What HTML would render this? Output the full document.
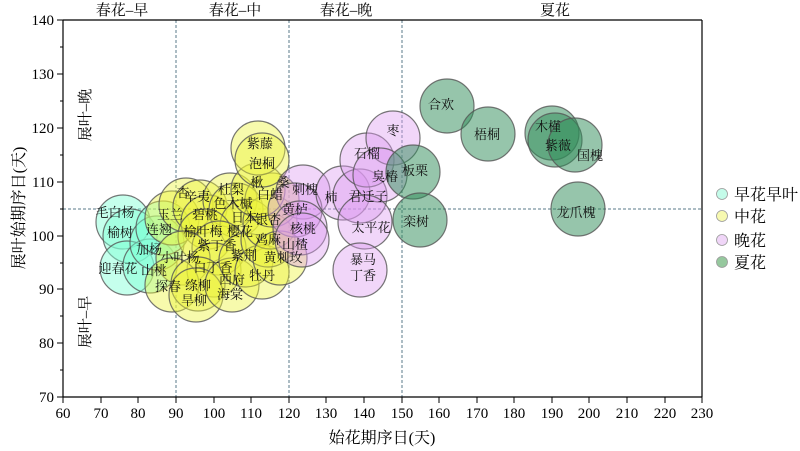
<!DOCTYPE html>
<html><head><meta charset="utf-8"><style>
html,body{margin:0;padding:0;background:#fff;}
svg{display:block;font-family:"Liberation Serif","Noto Serif CJK SC","Noto Sans CJK SC",serif;}
</style></head><body>
<svg width="800" height="451" viewBox="0 0 800 451" xmlns="http://www.w3.org/2000/svg">
<g stroke="#5a7a8a" stroke-width="1" stroke-dasharray="3,2">
<line x1="176" y1="20" x2="176" y2="397"/>
<line x1="289" y1="20" x2="289" y2="397"/>
<line x1="402" y1="20" x2="402" y2="397"/>
<line x1="63" y1="209" x2="702" y2="209"/>
</g>
<g stroke="#555" stroke-width="1.2" stroke-opacity="0.8">
<g fill="#7fffd4" fill-opacity="0.45">
<circle cx="123" cy="222" r="27"/><circle cx="130" cy="236" r="27"/>
<circle cx="127" cy="268" r="27"/><circle cx="150" cy="266" r="27"/>
<circle cx="157" cy="243" r="27"/><circle cx="163" cy="228" r="27"/>
</g>
<g fill="#ecf23a" fill-opacity="0.42">
<circle cx="172" cy="218" r="27"/><circle cx="186" cy="205" r="27"/><circle cx="200" cy="207" r="27"/>
<circle cx="208" cy="222" r="27"/><circle cx="230" cy="200" r="27"/><circle cx="236" cy="210" r="27"/>
<circle cx="247" cy="226" r="27"/><circle cx="205" cy="236" r="27"/><circle cx="219" cy="248" r="27"/>
<circle cx="183" cy="258" r="27"/><circle cx="214" cy="270" r="27"/><circle cx="172" cy="285" r="27"/>
<circle cx="198" cy="284" r="27"/><circle cx="196" cy="295" r="27"/><circle cx="232" cy="285" r="27"/>
<circle cx="246" cy="260" r="27"/><circle cx="262" cy="272" r="27"/><circle cx="268" cy="240" r="27"/>
<circle cx="270" cy="222" r="27"/><circle cx="272" cy="200" r="27"/><circle cx="258" cy="190" r="27"/>
<circle cx="258" cy="148" r="27"/><circle cx="262" cy="160" r="27"/><circle cx="280" cy="258" r="27"/>
</g>
<g fill="#dd99f0" fill-opacity="0.4">
<circle cx="303" cy="192" r="27"/><circle cx="295" cy="210" r="27"/><circle cx="300" cy="228" r="27"/>
<circle cx="302" cy="240" r="27"/><circle cx="343" cy="193" r="27"/><circle cx="360" cy="196" r="27"/>
<circle cx="367" cy="160" r="27"/><circle cx="393" cy="138" r="27"/><circle cx="380" cy="175" r="27"/>
<circle cx="365" cy="222" r="27"/><circle cx="360" cy="270" r="27"/>
</g>
<g fill="#2e8b57" fill-opacity="0.5">
<circle cx="413" cy="172" r="27"/><circle cx="420" cy="220" r="27"/><circle cx="447" cy="106" r="27"/>
<circle cx="488" cy="134" r="27"/><circle cx="552" cy="133" r="27"/><circle cx="555" cy="140" r="27"/>
<circle cx="575" cy="145" r="27"/><circle cx="578" cy="209" r="27"/>
</g>
</g>
<g font-size="13" fill="#111" text-anchor="middle">
<text x="115" y="217">毛白杨</text><text x="120" y="237">榆树</text><text x="118" y="273">迎春花</text>
<text x="149" y="254">加杨</text><text x="154" y="275">山桃</text><text x="159" y="234">连翘</text>
<text x="170" y="219">玉兰</text><text x="183" y="197">杏</text><text x="197" y="201">辛夷</text>
<text x="205" y="219">碧桃</text><text x="231" y="194">杜梨</text><text x="233" y="208">色木槭</text>
<text x="244" y="222">日本</text><text x="240" y="236">樱花</text><text x="203" y="236">榆叶梅</text>
<text x="217" y="250">紫丁香</text><text x="180" y="262">小叶杨</text><text x="213" y="272">白丁香</text>
<text x="168" y="291">探春</text><text x="198" y="290">绦柳</text><text x="194" y="305">旱柳</text>
<text x="232" y="284">西府</text><text x="230" y="299">海棠</text><text x="244" y="260">紫荆</text>
<text x="262" y="280">牡丹</text><text x="283" y="262">黄刺玫</text><text x="268" y="244">鸡麻</text>
<text x="268" y="224">银杏</text><text x="270" y="199">白蜡</text><text x="257" y="187">楸</text>
<text x="283" y="187">桑</text><text x="260" y="148">紫藤</text><text x="262" y="168">泡桐</text>
<text x="305" y="194">刺槐</text><text x="295" y="214">黄栌</text><text x="303" y="233">核桃</text>
<text x="295" y="249">山楂</text><text x="331" y="202">柿</text><text x="368" y="201">君迁子</text>
<text x="367" y="158">石榴</text><text x="393" y="135">枣</text><text x="385" y="181">臭椿</text>
<text x="371" y="232">太平花</text><text x="363" y="264">暴马</text><text x="363" y="280">丁香</text>
<text x="415" y="175">板栗</text><text x="416" y="226">栾树</text><text x="441" y="109">合欢</text>
<text x="487" y="139">梧桐</text><text x="548" y="131">木槿</text><text x="558" y="150">紫薇</text>
<text x="590" y="160">国槐</text><text x="576" y="217">龙爪槐</text>
</g>
<g stroke="#000" stroke-width="1.2" fill="none">
<line x1="63" y1="20" x2="702" y2="20"/>
<line x1="702" y1="20" x2="702" y2="397"/>
<line x1="63" y1="20" x2="63" y2="397"/>
<line x1="63" y1="397" x2="702" y2="397"/>
</g>
<g stroke="#000" stroke-width="1">
<line x1="57" y1="20" x2="63" y2="20"/><line x1="57" y1="74" x2="63" y2="74"/><line x1="57" y1="128" x2="63" y2="128"/>
<line x1="57" y1="182" x2="63" y2="182"/><line x1="57" y1="236" x2="63" y2="236"/><line x1="57" y1="289" x2="63" y2="289"/>
<line x1="57" y1="343" x2="63" y2="343"/><line x1="57" y1="397" x2="63" y2="397"/>
<line x1="60" y1="47" x2="63" y2="47"/><line x1="60" y1="101" x2="63" y2="101"/><line x1="60" y1="155" x2="63" y2="155"/>
<line x1="60" y1="209" x2="63" y2="209"/><line x1="60" y1="263" x2="63" y2="263"/><line x1="60" y1="316" x2="63" y2="316"/>
<line x1="60" y1="370" x2="63" y2="370"/>
</g>
<g font-size="15" fill="#000" text-anchor="end">
<text x="54" y="25">140</text><text x="54" y="79">130</text><text x="54" y="133">120</text><text x="54" y="187">110</text>
<text x="54" y="241">100</text><text x="54" y="294">90</text><text x="54" y="348">80</text><text x="54" y="402">70</text>
</g>
<g stroke="#000" stroke-width="1">
<line x1="63" y1="397" x2="63" y2="403"/><line x1="101" y1="397" x2="101" y2="403"/><line x1="138" y1="397" x2="138" y2="403"/>
<line x1="176" y1="397" x2="176" y2="403"/><line x1="214" y1="397" x2="214" y2="403"/><line x1="251" y1="397" x2="251" y2="403"/>
<line x1="289" y1="397" x2="289" y2="403"/><line x1="326" y1="397" x2="326" y2="403"/><line x1="364" y1="397" x2="364" y2="403"/>
<line x1="402" y1="397" x2="402" y2="403"/><line x1="439" y1="397" x2="439" y2="403"/><line x1="477" y1="397" x2="477" y2="403"/>
<line x1="514" y1="397" x2="514" y2="403"/><line x1="552" y1="397" x2="552" y2="403"/><line x1="589" y1="397" x2="589" y2="403"/>
<line x1="627" y1="397" x2="627" y2="403"/><line x1="665" y1="397" x2="665" y2="403"/><line x1="702" y1="397" x2="702" y2="403"/>
</g>
<g font-size="15" fill="#000" text-anchor="middle">
<text x="63" y="418">60</text><text x="101" y="418">70</text><text x="138" y="418">80</text><text x="176" y="418">90</text>
<text x="214" y="418">100</text><text x="251" y="418">110</text><text x="289" y="418">120</text><text x="326" y="418">130</text>
<text x="364" y="418">140</text><text x="402" y="418">150</text><text x="439" y="418">160</text><text x="477" y="418">170</text>
<text x="514" y="418">180</text><text x="552" y="418">190</text><text x="589" y="418">200</text><text x="627" y="418">210</text>
<text x="665" y="418">220</text><text x="702" y="418">230</text>
</g>
<text x="382" y="443" font-size="16" text-anchor="middle">始花期序日(天)</text>
<text transform="translate(24,208) rotate(-90)" font-size="16" text-anchor="middle">展叶始期序日(天)</text>
<g font-size="15" text-anchor="middle">
<text x="122" y="15">春花–早</text><text x="235" y="15">春花–中</text><text x="346" y="15">春花–晚</text><text x="555" y="15">夏花</text>
<text transform="translate(90,115) rotate(-90)">展叶–晚</text>
<text transform="translate(90,322) rotate(-90)">展叶–早</text>
</g>
<g stroke="#999" stroke-width="0.8">
<circle cx="722" cy="194" r="5.5" fill="#c4fbe9"/>
<circle cx="722" cy="216" r="5.5" fill="#f7f9b0"/>
<circle cx="722" cy="240" r="5.5" fill="#f0d6f8"/>
<circle cx="722" cy="262" r="5.5" fill="#96c89e"/>
</g>
<g font-size="16">
<text x="734" y="200">早花早叶</text><text x="734" y="222">中花</text><text x="734" y="246">晚花</text><text x="734" y="268">夏花</text>
</g>
</svg>
</body></html>
